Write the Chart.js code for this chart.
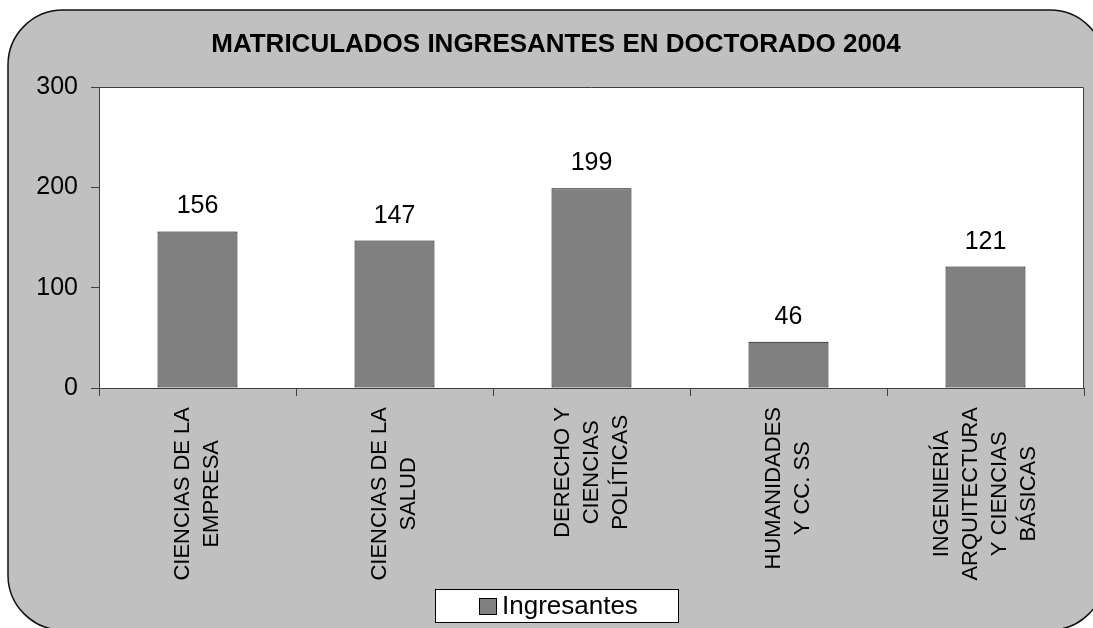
<!DOCTYPE html>
<html>
<head>
<meta charset="utf-8">
<script src="https://cdn.jsdelivr.net/npm/chart.js@4/dist/chart.umd.min.js"></script>
<style>
  html, body { margin: 0; padding: 0; background: #ffffff; }
  #wrap { width: 1093px; height: 628px; position: relative; }
</style>
</head>
<body>
<div id="wrap"><canvas id="bar-chart" width="1093" height="628"></canvas></div>
<script>
const titleText = "MATRICULADOS INGRESANTES EN DOCTORADO 2004";
const categories = [
  ["CIENCIAS DE LA", "EMPRESA"],
  ["CIENCIAS DE LA", "SALUD"],
  ["DERECHO Y", "CIENCIAS", "POLÍTICAS"],
  ["HUMANIDADES", "Y CC. SS"],
  ["INGENIERÍA", "ARQUITECTURA", "Y CIENCIAS", "BÁSICAS"]
];
const ingresantes = [156, 147, 199, 46, 121];
const yTicks = [0, 100, 200, 300];

const FONT = '"Liberation Sans", Arial, sans-serif';
Chart.defaults.font.family = FONT;

// background panel, plot frame, title, data labels, x labels, legend
const decor = {
  id: 'decor',
  beforeDraw(chart) {
    const ctx = chart.ctx, a = chart.chartArea;
    ctx.save();
    ctx.beginPath();
    ctx.roundRect(8, 10, 1097, 620, 55);
    ctx.fillStyle = '#c0c0c0';
    ctx.fill();
    ctx.lineWidth = 1.5;
    ctx.strokeStyle = '#111';
    ctx.stroke();
    ctx.fillStyle = '#ffffff';
    ctx.fillRect(a.left, a.top, a.right - a.left, a.bottom - a.top);
    ctx.restore();
  },
  afterDraw(chart) {
    const ctx = chart.ctx, a = chart.chartArea;
    const xs = chart.scales.x;
    ctx.save();
    // frame top + right
    ctx.strokeStyle = '#404040';
    ctx.lineWidth = 1;
    ctx.beginPath();
    ctx.moveTo(a.left, a.top + 0.5);
    ctx.lineTo(a.right - 0.5, a.top + 0.5);
    ctx.lineTo(a.right - 0.5, a.bottom);
    ctx.stroke();

    // title
    ctx.fillStyle = '#000';
    ctx.font = 'bold 26px ' + FONT;
    ctx.textAlign = 'center';
    ctx.textBaseline = 'middle';
    ctx.fillText(titleText, 556, 45);

    // value labels
    ctx.font = '25px ' + FONT;
    ctx.textBaseline = 'alphabetic';
    chart.getDatasetMeta(0).data.forEach((bar, i) => {
      ctx.fillText(String(ingresantes[i]), bar.x, bar.y - 18);
    });

    // rotated category labels
    ctx.font = '22px ' + FONT;
    const lh = 29;
    categories.forEach((lines, i) => {
      const x = xs.getPixelForTick(i);
      const maxW = Math.max(...lines.map(l => ctx.measureText(l).width));
      ctx.save();
      ctx.translate(x, 407);
      ctx.rotate(-Math.PI / 2);
      ctx.textAlign = 'center';
      ctx.textBaseline = 'middle';
      lines.forEach((l, j) => {
        const off = (j - (lines.length - 1) / 2) * lh;
        ctx.fillText(l, -maxW / 2, off);
      });
      ctx.restore();
    });

    // legend
    ctx.fillStyle = '#fff';
    ctx.fillRect(435, 589, 243, 33);
    ctx.strokeStyle = '#000';
    ctx.strokeRect(435.5, 589.5, 243, 33);
    ctx.fillStyle = '#808080';
    ctx.fillRect(479, 598, 17, 16);
    ctx.strokeRect(479.5, 598.5, 17, 16);
    ctx.fillStyle = '#000';
    ctx.font = '26px ' + FONT;
    ctx.textAlign = 'left';
    ctx.textBaseline = 'middle';
    ctx.fillText(chart.data.datasets[0].label, 502, 607);
    ctx.restore();
  }
};

new Chart(document.getElementById("bar-chart"), {
  type: 'bar',
  data: {
    labels: categories,
    datasets: [
      {
        label: "Ingresantes",
        backgroundColor: "#808080",
        borderColor: "#000000",
        borderWidth: 1,
        borderSkipped: false,
        barPercentage: 0.406,
        categoryPercentage: 1,
        data: ingresantes
      }
    ]
  },
  options: {
    responsive: false,
    animation: false,
    layout: { padding: { left: 0, top: 87, right: 9, bottom: 0 } },
    plugins: {
      legend: { display: false },
      title: { display: false },
      tooltip: { enabled: false }
    },
    scales: {
      x: {
        offset: true,
        grid: { display: true, drawOnChartArea: false, drawTicks: true, tickLength: 8, color: '#404040', offset: true },
        border: { display: true, color: '#404040', width: 1 },
        ticks: { display: false },
        afterFit(s) { s.height = 240; }
      },
      y: {
        min: 0,
        max: 300,
        afterBuildTicks(s) { s.ticks = yTicks.map(v => ({ value: v })); },
        grid: { display: true, drawOnChartArea: false, drawTicks: true, tickLength: 8, color: '#404040' },
        border: { display: true, color: '#404040', width: 1 },
        ticks: { color: '#000', font: { size: 25 }, padding: 13 },
        afterFit(s) { s.width = 99; }
      }
    }
  },
  plugins: [decor]
});
</script>
</body>
</html>
